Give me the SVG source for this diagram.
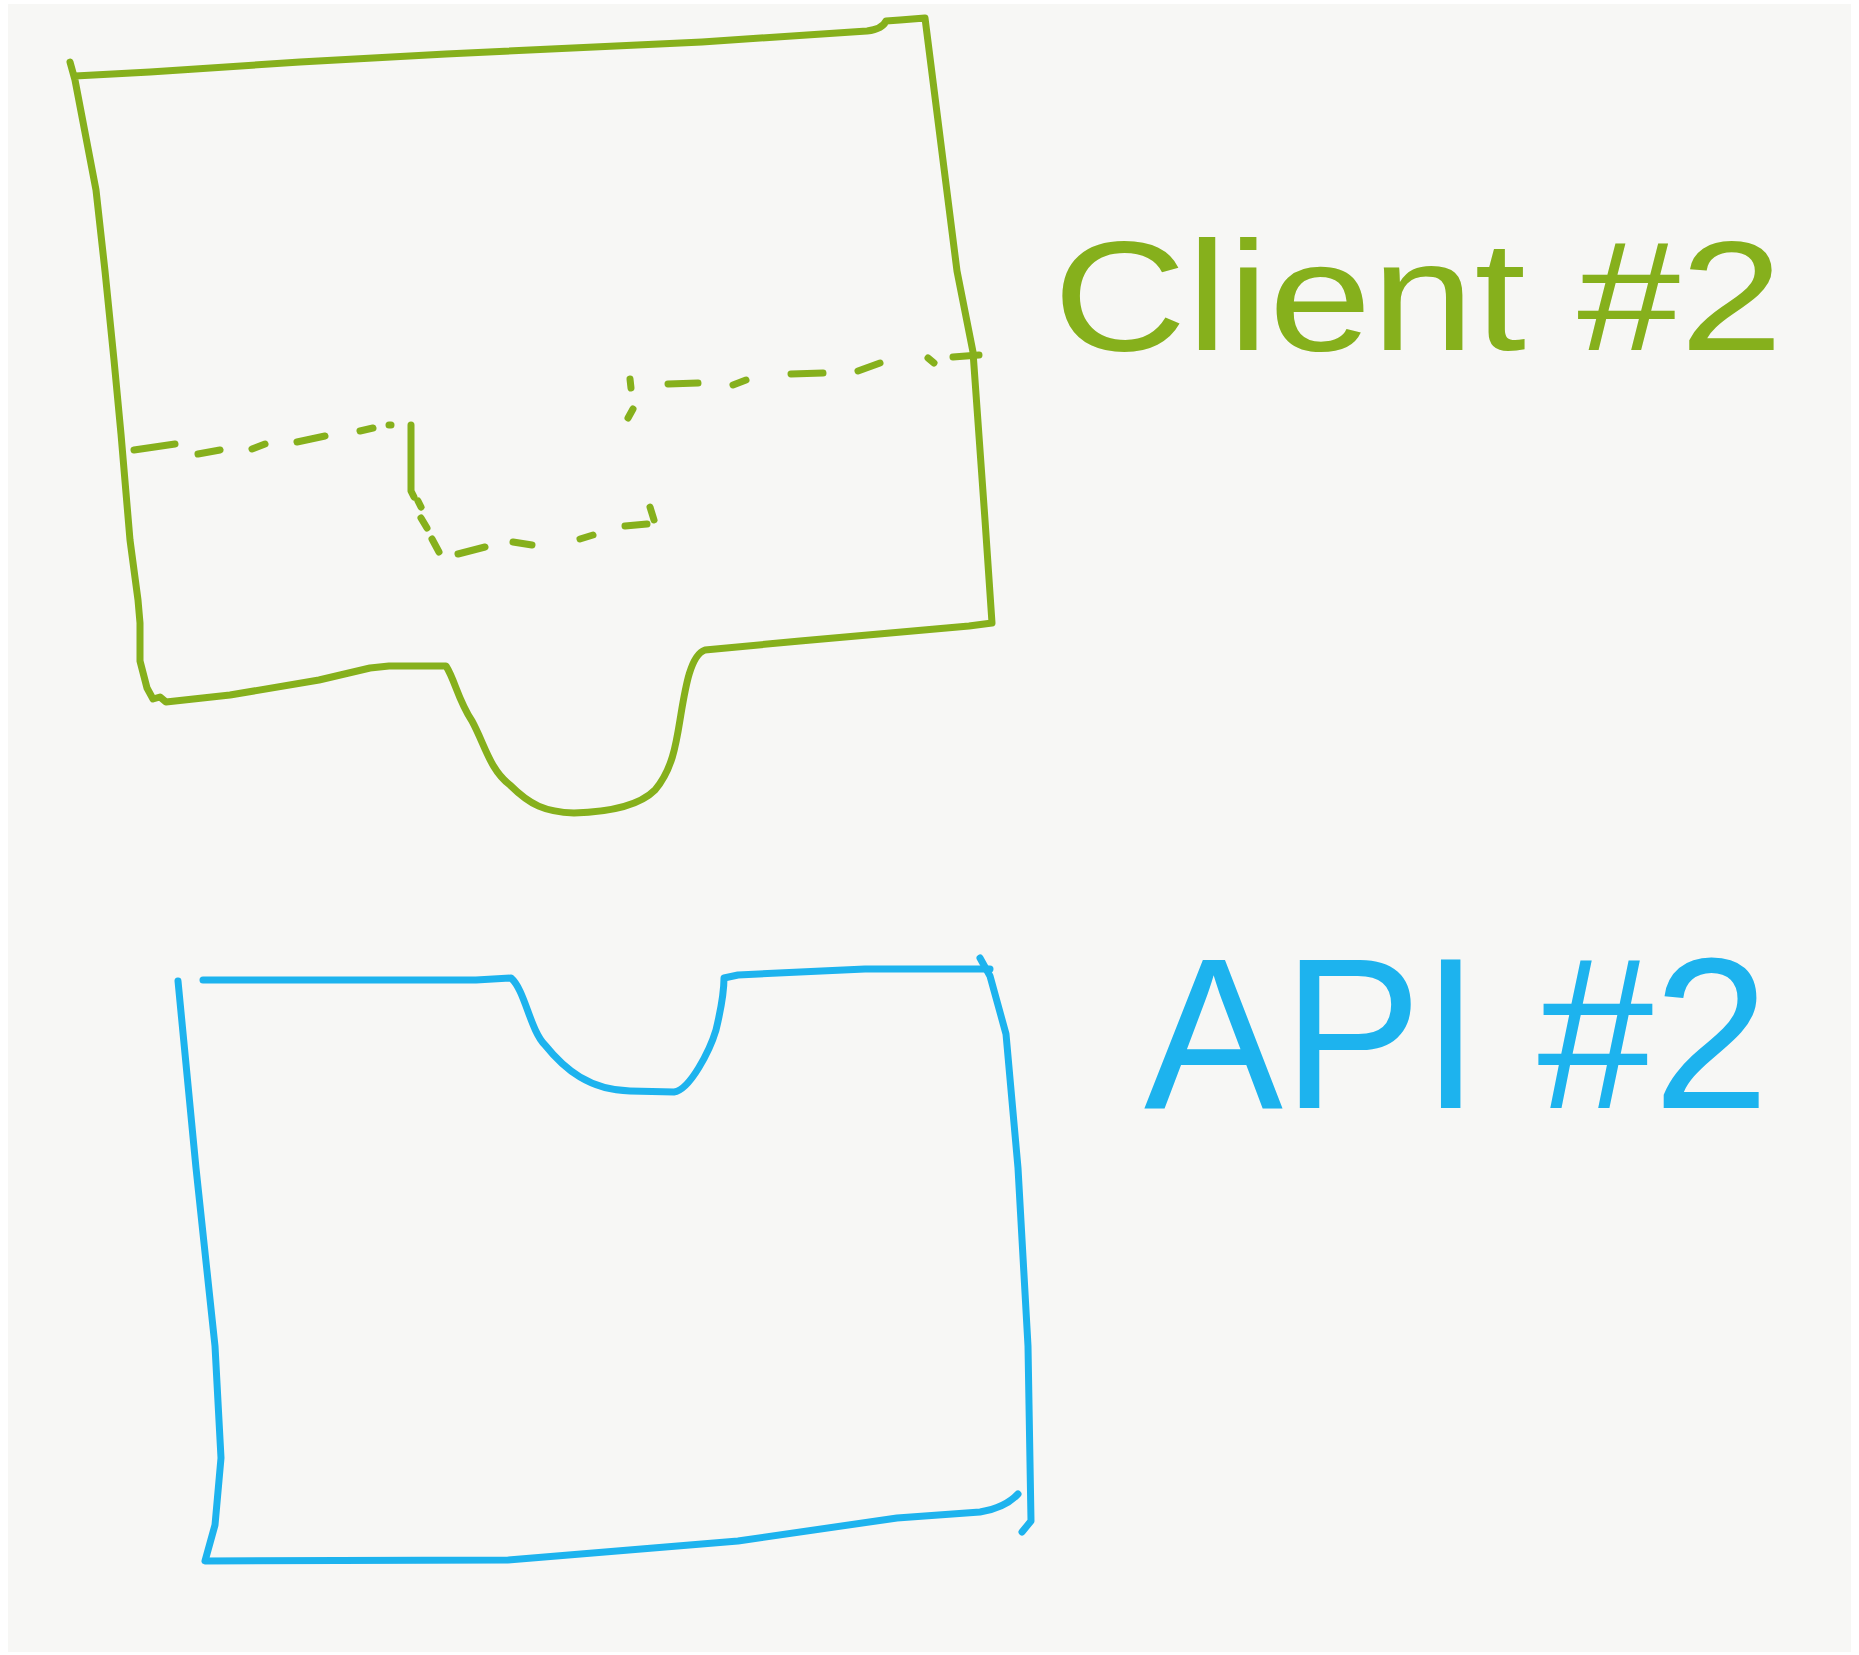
<svg xmlns="http://www.w3.org/2000/svg" width="1859" height="1655" viewBox="0 0 1859 1655">
<style>
.g{fill:none;stroke:#86B01C;stroke-width:7;stroke-linecap:round;stroke-linejoin:round}
.b{fill:none;stroke:#1DB3EE;stroke-width:7;stroke-linecap:round;stroke-linejoin:round}
.tg{fill:#86B01C;font-family:"Liberation Sans",Arial,sans-serif}
.tb{fill:#1DB3EE;font-family:"Liberation Sans",Arial,sans-serif}
</style>
<rect x="0" y="0" width="1859" height="1655" fill="#FFFFFF"/>
<rect x="8" y="4" width="1843" height="1648" fill="#F7F7F5"/>
<g id="client2">
<path class="g" d="M70,62 L75,80 L96,190 L105,271 L114,360 L121,434 L130,540 L138,600 L140,623 L140,661 L147,688 L153,699 L160,697 L166,702 L230,695 L319,680 L370,668 L389,666 L446,666 C455,680 458,700 472,721 C485,745 490,770 510,785 C530,805 545,812 574,813 C610,812 640,805 655,790 C672,770 676,745 680,720 C685,690 690,655 705,650 L800,641 L969,626 L992,623 L985,520 L973,352 L957,271 L925,18 L900,20 L886,21 C883,28 875,30 867,31 L702,42 L446,54 L300,62 L150,72 L75,76"/>
<path class="g" d="M411,425 L411,491 L414,497"/>
<g class="g">
<path d="M134,450 L175,444"/><path d="M198,454 L220,450"/><path d="M252,449 L265,444"/><path d="M297,442 L325,436"/><path d="M360,431 L373,428"/><path d="M389,425 L391,425"/>
<path d="M418,501 L421,507"/><path d="M421,518 L427,528"/><path d="M432,539 L439,552"/><path d="M458,554 L485,547"/><path d="M513,542 L532,545"/><path d="M580,539 L593,535"/><path d="M625,526 L647,524"/><path d="M650,507 L654,520"/>
<path d="M630,379 L631,388"/><path d="M633,409 L628,418"/><path d="M668,384 L698,383"/><path d="M733,385 L746,380"/><path d="M791,374 L823,373"/><path d="M858,371 L880,363"/><path d="M928,358 L934,363"/><path d="M953,357 L979,355"/>
</g>
<text class="tg" x="1053" y="350" font-size="155" textLength="730" lengthAdjust="spacingAndGlyphs">Client #2</text>
</g>
<g id="api2">
<path class="b" d="M178,981 L196,1168 L215,1346 L221,1458 L215,1525 L205,1561 L508,1560 L738,1541 L897,1518 L980,1512 Q1005,1508 1018,1494"/>
<path class="b" d="M203,980 L476,980 L511,978 C525,990 530,1030 545,1045 C565,1070 590,1090 630,1091 L674,1092 C690,1090 710,1050 716,1030 C722,1005 724,990 724,978 L738,975 L865,969 L990,969"/>
<path class="b" d="M980,958 L990,976 L1006,1034 L1018,1168 L1028,1346 L1031,1521 L1022,1532"/>
<text class="tb" x="1144" y="1108" font-size="215" textLength="625" lengthAdjust="spacingAndGlyphs">API #2</text>
</g>
<g id="connectors"></g>
</svg>
